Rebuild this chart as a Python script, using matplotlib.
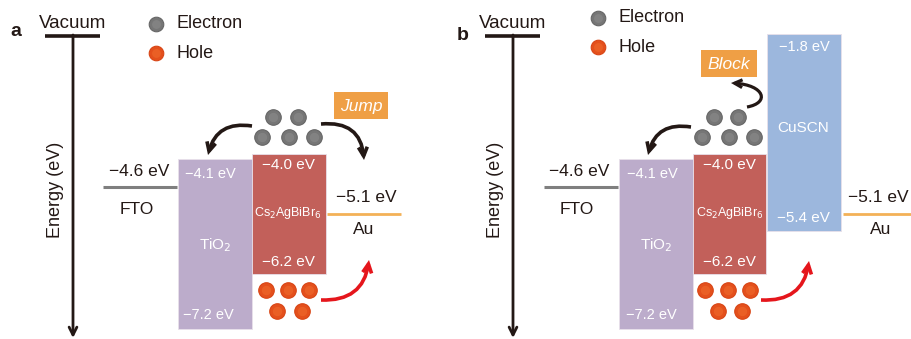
import matplotlib
matplotlib.use("Agg")
import matplotlib.pyplot as plt
from matplotlib.patches import FancyArrowPatch, Rectangle
from matplotlib.path import Path

plt.rcParams['font.family'] = ['Liberation Sans', 'DejaVu Sans']

# ---------------- data ----------------
layers_a = ["TiO$_2$", "Cs$_2$AgBiBr$_6$"]
cb_a = [-4.1, -4.0]
vb_a = [-7.2, -6.2]
layers_b = ["TiO$_2$", "Cs$_2$AgBiBr$_6$", "CuSCN"]
cb_b = [-4.1, -4.0, -1.8]
vb_b = [-7.2, -6.2, -5.4]
fto_level = -4.6
au_level = -5.1
band_colors = ["#bcaccb", "#c2605a", "#9cb7dd"]

W, H = 912, 339
fig = plt.figure(figsize=(W / 100, H / 100), dpi=100)
# energy axes (y = energy in eV)
ax = fig.add_axes([0, 0, 1, 1])
ax.set_xlim(0, W)
ax.set_ylim(-7.382, -1.185)
ax.axis('off')
# pixel overlay for decoration
ov = fig.add_axes([0, 0, 1, 1])
ov.set_xlim(0, W)
ov.set_ylim(H, 0)
ov.axis('off')
ov.patch.set_alpha(0)

E_OUT, E_IN, E_EDGE = '#767676', '#868686', '#666666'
H_OUT, H_IN, H_EDGE = '#e4501c', '#ec6428', '#d84515'


def dots(xs, ys, kind, s_out=125, s_in=45):
    if kind == 'e':
        o, i, e = E_OUT, E_IN, E_EDGE
    else:
        o, i, e = H_OUT, H_IN, H_EDGE
    ov.scatter(xs, ys, s=s_out, color=o, edgecolor=e, lw=0.8, zorder=5)
    ov.scatter(xs, ys, s=s_in, color=i, lw=0, zorder=6, alpha=0.8)


def panel(x0, letter, cb, vb, names, bar_x, bar_w, fto_x, au_x, au_w):
    # vacuum axis
    vx = x0 + 73 if letter == 'a' else x0 + 57
    ov.plot([vx - 28, vx + 27], [36, 36], color='#231815', lw=2.6, solid_capstyle='butt')
    ov.annotate('', xy=(vx, 338), xytext=(vx, 35),
                arrowprops=dict(arrowstyle='->', lw=2.0, color='#231815',
                                mutation_scale=14, shrinkA=0, shrinkB=0))
    ov.text(vx, 23, 'Vacuum', ha='center', va='center', fontsize=13.5, color='#231815')
    lx0 = x0 + 10 if letter == 'a' else x0 + 1
    ly0 = 31 if letter == 'a' else 36
    ov.text(lx0, ly0, letter, ha='left', va='center', fontsize=14, fontweight='bold',
            color='#231815')
    ov.text(vx - 17, 190, 'Energy (eV)', rotation=90, ha='center', va='center',
            fontsize=13, color='#231815')
    # legend
    lx = x0 + 156 if letter == 'a' else x0 + 142
    ly1 = 24 if letter == 'a' else 18
    ly2 = 53 if letter == 'a' else 47
    dots([lx], [ly1], 'e', 110, 40)
    dots([lx], [ly2], 'h', 110, 40)
    ov.text(lx + 21, ly1, 'Electron', ha='left', va='center', fontsize=13, color='#231815')
    ov.text(lx + 21, ly2, 'Hole', ha='left', va='center', fontsize=13, color='#231815')
    # bands
    ax.bar(bar_x, [c - v for c, v in zip(cb, vb)], bottom=vb, width=bar_w, align='edge',
           color=band_colors[:len(cb)], edgecolor='#e8e0ea', lw=0.6, zorder=2)
    # FTO and Au
    ax.plot([fto_x, fto_x + 74], [fto_level, fto_level], color='#7f7f7f', lw=2.2,
            solid_capstyle='butt')
    ax.plot([au_x, au_x + au_w], [au_level, au_level], color='#f3b157', lw=2.0,
            solid_capstyle='butt')


# panel a
panel(0, 'a', cb_a, vb_a, layers_a, [178, 252], 74, 103, 327, 74)
# panel b
panel(456, 'b', cb_b, vb_b, layers_b, [619, 693, 767], [74, 73, 74], 544, 843, 69)


def t(x, y, s, fs=12.5, c='#231815', **kw):
    ov.text(x, y, s, ha='center', va='center', fontsize=fs, color=c, **kw)


# panel a text
t(139, 172, '\u22124.6 eV')
t(137, 209, 'FTO')
t(210, 174, '\u22124.1 eV', 10.5, 'white')
t(215, 245, 'TiO$_2$', 11, 'white')
t(208, 315, '\u22127.2 eV', 10.5, 'white')
t(288, 165, '\u22124.0 eV', 11, 'white')
t(288, 213, 'Cs$_2$AgBiBr$_6$', 9, 'white')
t(288, 262, '\u22126.2 eV', 11, 'white')
t(366, 198, '\u22125.1 eV')
t(364, 230, 'Au')
# panel b text
t(579, 172, '\u22124.6 eV')
t(577, 209, 'FTO')
t(652, 174, '\u22124.1 eV', 10.5, 'white')
t(656, 245, 'TiO$_2$', 11, 'white')
t(651, 315, '\u22127.2 eV', 10.5, 'white')
t(729, 165, '\u22124.0 eV', 11, 'white')
t(730, 213, 'Cs$_2$AgBiBr$_6$', 9, 'white')
t(729, 262, '\u22126.2 eV', 11, 'white')
t(804, 47, '\u22121.8 eV', 10.5, 'white')
t(803, 128, 'CuSCN', 11, 'white')
t(803, 218, '\u22125.4 eV', 11, 'white')
ov.text(848, 198, '\u22125.1 eV', ha='left', va='center', fontsize=12.5, color='#231815')
t(881, 230, 'Au')

# boxes
for (bx, by, bw, bh, s) in [(334, 92, 54, 27, 'Jump'), (701, 50, 56, 27, 'Block')]:
    ov.add_patch(Rectangle((bx, by), bw, bh, facecolor='#ef9f45', edgecolor='none', zorder=3))
    ov.text(bx + bw / 2, by + bh / 2 + 1, s, ha='center', va='center', fontsize=12.5,
            color='white', style='italic', zorder=4)

# electrons and holes
elec_x = [[273, 298, 262, 289, 314], [714, 738, 702, 729, 754]]
elec_y = [117, 117, 137, 137, 137]
hole_x = [[266, 288, 309, 277, 302], [705, 728, 750, 718, 742]]
hole_y = [290, 290, 290, 311, 311]
for ex, hx in zip(elec_x, hole_x):
    dots(ex, elec_y, 'e')
    dots(hx, hole_y, 'h')


# arrows
def arr(p0, p1, rad, color='#231815', lw=2.6):
    a = FancyArrowPatch(p0, p1, connectionstyle=f'arc3,rad={rad}', arrowstyle='->',
                        mutation_scale=16, lw=lw, color=color, shrinkA=0, shrinkB=0,
                        zorder=7, joinstyle='miter', capstyle='butt')
    ov.add_patch(a)


arr((252, 126), (208, 155), 0.45)
arr((321, 124), (364, 160), -0.5)
arr((321, 300), (369, 260), 0.45, color='#e5161c')
arr((691, 127), (648, 155), 0.45)
arr((761, 300), (809, 261), 0.45, color='#e5161c')

# "Block" S-shaped arrow
block_path = Path([(747, 107), (770, 103), (765, 85), (731, 83)],
                  [Path.MOVETO, Path.CURVE4, Path.CURVE4, Path.CURVE4])
ov.add_patch(FancyArrowPatch(path=block_path, arrowstyle='->', mutation_scale=14, lw=2.3,
                             color='#231815', zorder=7, joinstyle='miter', capstyle='butt'))

fig.savefig('out.png', dpi=100)
